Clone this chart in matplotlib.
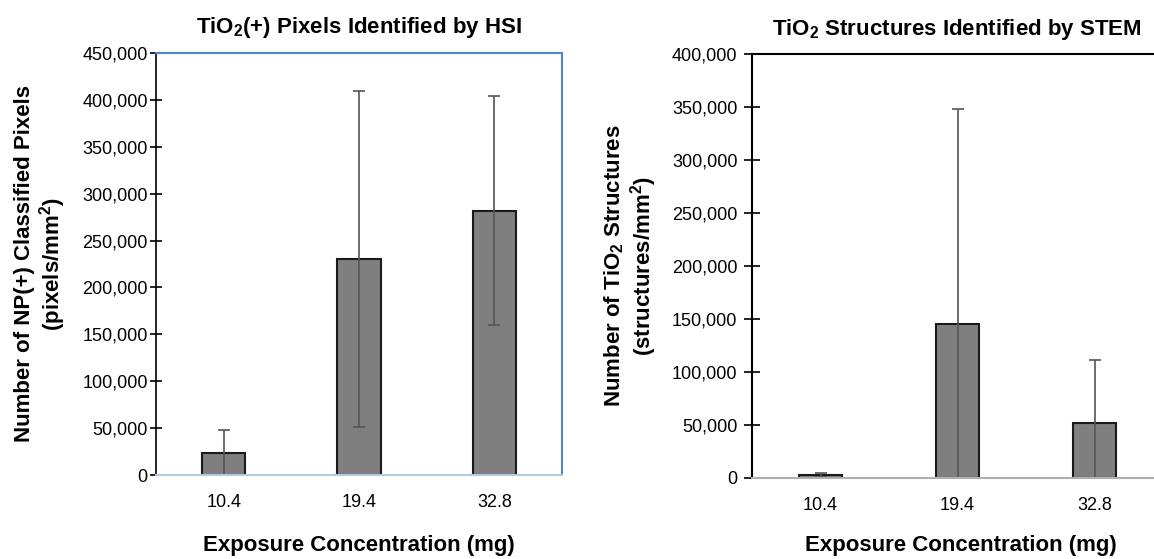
import matplotlib
matplotlib.use("Agg")
import matplotlib.pyplot as plt
from matplotlib.ticker import FuncFormatter

# exposure groups (mg)
concentrations = ["10.4", "19.4", "32.8"]

# HSI: NP(+) classified pixels per mm^2
hsi_means = [23600, 230000, 282000]
hsi_err = [24400, 179000, 122000]

# STEM: TiO2 structures per mm^2
stem_means = [3100, 145000, 52000]
stem_err = [2000, 203000, 59500]

plt.rcParams["font.family"] = ["Liberation Sans", "DejaVu Sans"]
plt.rcParams["mathtext.fontset"] = "custom"
plt.rcParams["mathtext.rm"] = "Liberation Sans:bold"
plt.rcParams["mathtext.default"] = "rm"

W, H = 1154, 559
fig = plt.figure(figsize=(W / 100, H / 100), dpi=100)


def px_axes(x0, y0, x1, y1):
    # axes box from pixel corners (top-left origin)
    return fig.add_axes([x0 / W, 1 - y1 / H, (x1 - x0) / W, (y1 - y0) / H])


comma = FuncFormatter(lambda v, p: f"{int(v):,}")
err_style = dict(ecolor="#555555", elinewidth=1.2, capsize=4, capthick=1.2)

# left panel
ax1 = px_axes(156, 53, 562, 475)
x = range(len(concentrations))
ax1.bar(x, hsi_means, width=0.32, color="#7f7f7f", edgecolor="#1a1a1a",
        linewidth=1.5, yerr=hsi_err, error_kw=err_style)
ax1.set_xlim(-0.5, 2.5)
ax1.set_ylim(0, 450000)
ax1.set_yticks(range(0, 450001, 50000))
ax1.yaxis.set_major_formatter(comma)
ax1.set_xticks(list(x))
ax1.set_xticklabels(concentrations)
ax1.tick_params(axis="y", direction="inout", length=8, width=1.2, labelsize=13, pad=2)
ax1.tick_params(axis="x", length=0, labelsize=13, pad=14)
ax1.spines["left"].set_color("black")
ax1.spines["left"].set_linewidth(1.2)
for s in ("top", "right"):
    ax1.spines[s].set_color("#4f86d0")
    ax1.spines[s].set_linewidth(1.5)
ax1.spines["bottom"].set_color("#b9c9dd")
ax1.spines["bottom"].set_linewidth(1.5)

# right panel (runs past the right edge, as in the source)
ax2 = px_axes(752, 54, 1163, 478)
ax2.bar(x, stem_means, width=0.32, color="#7f7f7f", edgecolor="#1a1a1a",
        linewidth=1.5, yerr=stem_err, error_kw=err_style)
ax2.set_xlim(-0.5, 2.5)
ax2.set_ylim(0, 400000)
ax2.set_yticks(range(0, 400001, 50000))
ax2.yaxis.set_major_formatter(comma)
ax2.set_xticks(list(x))
ax2.set_xticklabels(concentrations)
ax2.tick_params(axis="y", direction="inout", length=11, width=1.2, labelsize=13, pad=5)
ax2.tick_params(axis="x", length=0, labelsize=13, pad=14)
for s in ("top", "left"):
    ax2.spines[s].set_color("black")
    ax2.spines[s].set_linewidth(1.5)
ax2.spines["right"].set_visible(False)
ax2.spines["bottom"].set_color("#b0b0b0")
ax2.spines["bottom"].set_linewidth(1.5)


# titles and axis labels
def ftext(px, py, s, size, **kw):
    fig.text(px / W, 1 - py / H, s, fontsize=size, fontweight="bold",
             ha="center", va="center", **kw)


ftext(359, 27, "TiO$_2$(+) Pixels Identified by HSI", 16)
ftext(957, 30, "TiO$_2$ Structures Identified by STEM", 16)
ftext(359, 545, "Exposure Concentration (mg)", 16)
ftext(961, 545, "Exposure Concentration (mg)", 16)
ftext(41, 264, "Number of NP(+) Classified Pixels\n(pixels/mm$^2$)", 16,
      rotation=90, linespacing=1.1)
ftext(631, 266, "Number of TiO$_2$ Structures\n(structures/mm$^2$)", 16,
      rotation=90, linespacing=1.1)

fig.savefig("out.png", dpi=100, facecolor="white")
